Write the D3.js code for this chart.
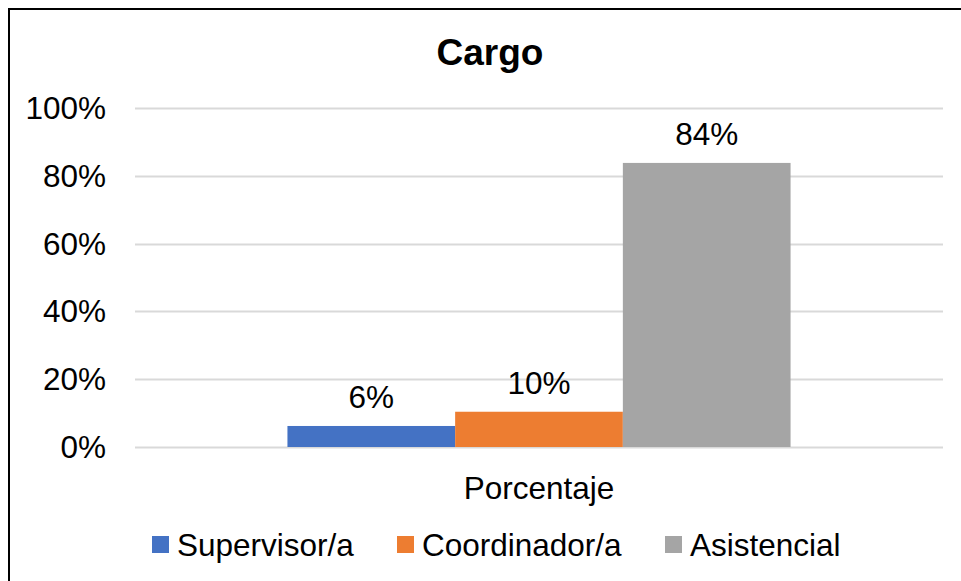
<!DOCTYPE html>
<html>
<head>
<meta charset="utf-8">
<script src="https://cdn.jsdelivr.net/npm/d3@7"></script>
<style>
  body { margin: 0; background: #fff; }
  svg text { font-family: "Liberation Sans", Arial, sans-serif; fill: #000; }
</style>
</head>
<body>
<div id="vis"></div>
<script>
const SERIES = ["Supervisor/a", "Coordinador/a", "Asistencial"];
const VALUES = [6.2, 10.4, 83.8];
const LABELS = ["6%", "10%", "84%"];
const COLORS = ["#4472C4", "#ED7D31", "#A5A5A5"];
const CATEGORY = ["Porcentaje"];
const TICKS = [0, 20, 40, 60, 80, 100];

const WIDTH = 961;
const HEIGHT = 581;
const SVG = d3.select("#vis").append("svg")
    .attr("width", WIDTH).attr("height", HEIGHT);

// marco del gráfico
SVG.append("path")
    .attr("d", `M9,${HEIGHT} V9 H${WIDTH}`)
    .attr("fill", "none")
    .attr("stroke", "#000")
    .attr("stroke-width", 2);

const plot = { left: 135, right: 943, top: 108, bottom: 447 };

const y = d3.scaleLinear().domain([0, 100]).range([plot.bottom, plot.top]);
const x0 = d3.scaleBand().domain(CATEGORY).range([plot.left, plot.right]).paddingInner(0).paddingOuter(0.303);
const x1 = d3.scaleBand().domain(SERIES).range([0, x0.bandwidth()]);

// líneas de cuadrícula
SVG.append("g")
    .selectAll("line")
    .data(TICKS)
    .join("line")
    .attr("x1", plot.left).attr("x2", plot.right)
    .attr("y1", d => Math.round(y(d)) + 0.5).attr("y2", d => Math.round(y(d)) + 0.5)
    .attr("stroke", "#D9D9D9")
    .attr("stroke-width", 2);

// etiquetas eje y
SVG.append("g")
    .selectAll("text")
    .data(TICKS)
    .join("text")
    .attr("x", 106)
    .attr("y", d => y(d) + 11)
    .attr("text-anchor", "end")
    .style("font-size", "31.5px")
    .text(d => d + "%");

// barras
const g = SVG.append("g").attr("transform", `translate(${x0(CATEGORY[0])},0)`);
g.selectAll("rect")
    .data(SERIES)
    .join("rect")
    .attr("x", d => x1(d))
    .attr("width", x1.bandwidth())
    .attr("y", (d, i) => y(VALUES[i]))
    .attr("height", (d, i) => plot.bottom - y(VALUES[i]))
    .attr("fill", (d, i) => COLORS[i]);

g.selectAll("text")
    .data(SERIES)
    .join("text")
    .attr("x", d => x1(d) + x1.bandwidth() / 2)
    .attr("y", (d, i) => y(VALUES[i]) - 18)
    .attr("text-anchor", "middle")
    .style("font-size", "31.5px")
    .text((d, i) => LABELS[i]);

// etiqueta categoría
SVG.append("text")
    .attr("x", x0(CATEGORY[0]) + x0.bandwidth() / 2)
    .attr("y", 499)
    .attr("text-anchor", "middle")
    .style("font-size", "31.5px")
    .text(CATEGORY[0]);

// título
SVG.append("text")
    .attr("x", 490)
    .attr("y", 65)
    .attr("text-anchor", "middle")
    .style("font-size", "37px")
    .style("font-weight", "bold")
    .text("Cargo");

// leyenda
const legendX = [152, 397, 665];
const legend = SVG.append("g")
    .selectAll("g")
    .data(SERIES)
    .join("g")
    .attr("transform", (d, i) => `translate(${legendX[i]},536)`);
legend.append("rect")
    .attr("width", 17).attr("height", 17)
    .attr("fill", (d, i) => COLORS[i]);
legend.append("text")
    .attr("x", 25)
    .attr("y", 20)
    .style("font-size", "31.5px")
    .text(d => d);
</script>
</body>
</html>
